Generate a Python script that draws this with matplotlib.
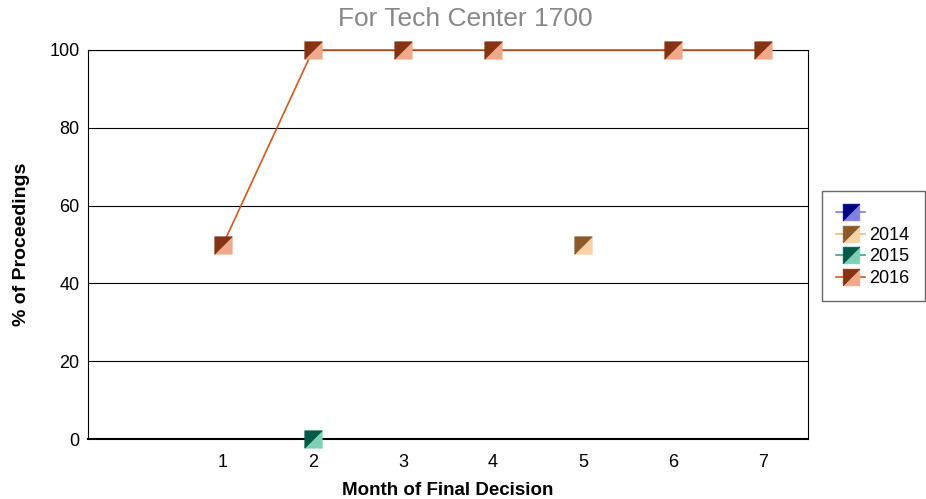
import numpy as np
import matplotlib.pyplot as plt
from matplotlib.legend_handler import HandlerTuple

plt.rcParams["font.family"] = ["Liberation Sans", "DejaVu Sans"]

# monthly share of proceedings, per fiscal year
series_names = ["", "2014", "2015", "2016"]
months_blank, pct_blank = [], []
months_2014, pct_2014 = [5], [50]
months_2015, pct_2015 = [2], [0]
months_2016, pct_2016 = [1, 2, 3, 4, 6, 7], [50, 100, 100, 100, 100, 100]
xticks = [1, 2, 3, 4, 5, 6, 7]
yticks = [0, 20, 40, 60, 80, 100]

# (dark half, light half, line colour)
colors = [
    ("#000080", "#8080E0", "#8080E0"),
    ("#8B5A2B", "#FAD1A4", "#F5B47A"),
    ("#005A46", "#7FCFB6", "#2EA882"),
    ("#843313", "#F0A98A", "#D2581E"),
]

# square marker split along the diagonal
upper = [(-1, -1), (-1, 1), (1, 1), (-1, -1)]
lower = [(-1, -1), (1, -1), (1, 1), (-1, -1)]

fig = plt.figure(figsize=(9.26, 4.99), dpi=100)
ax = fig.add_axes([0.095, 0.1202, 0.7776, 0.7796])

data = [(months_blank, pct_blank), (months_2014, pct_2014),
        (months_2015, pct_2015), (months_2016, pct_2016)]
handles = []
for (xs, ys), (dark, light, lc) in zip(data, colors):
    ax.plot(xs, ys, color=lc, linewidth=1.2, zorder=3, clip_on=False)
    ax.plot(xs, ys, linestyle="none", marker=lower, markersize=12.5,
            markerfacecolor=light, markeredgecolor=light, markeredgewidth=0.5,
            zorder=4, clip_on=False)
    ax.plot(xs, ys, linestyle="none", marker=upper, markersize=12.5,
            markerfacecolor=dark, markeredgecolor=dark, markeredgewidth=0.5,
            zorder=5, clip_on=False)
    h_line = plt.Line2D([], [], color=lc, linewidth=1.2)
    h_lo = plt.Line2D([], [], linestyle="none", marker=lower, markersize=12,
                      markerfacecolor=light, markeredgecolor=light, markeredgewidth=0.5)
    h_up = plt.Line2D([], [], linestyle="none", marker=upper, markersize=12,
                      markerfacecolor=dark, markeredgecolor=dark, markeredgewidth=0.5)
    handles.append((h_line, h_lo, h_up))

ax.set_xlim(-0.5, 7.5)
ax.set_ylim(0, 100)
ax.set_xticks(xticks)
ax.set_yticks(yticks)
ax.tick_params(length=0, labelsize=13)
ax.tick_params(axis="x", pad=11)
ax.tick_params(axis="y", pad=6)
ax.yaxis.grid(True, color="black", linewidth=0.8)
ax.set_axisbelow(True)
for side in ["top", "right", "left"]:
    ax.spines[side].set_linewidth(0.8)
ax.spines["bottom"].set_linewidth(1.5)

ax.set_xlabel("Month of Final Decision", fontsize=13.5, fontweight="bold", labelpad=8)
ax.set_ylabel("% of Proceedings", fontsize=14, fontweight="bold", labelpad=14)
fig.text(0.502, 0.961, "For Tech Center 1700", ha="center", va="center",
         fontsize=19, color="#888888")

leg = fig.legend(handles, series_names, handler_map={tuple: HandlerTuple(ndivide=1)},
                 loc="upper left", bbox_to_anchor=(0.8877, 0.6172, 0.111, 0.0),
                 mode="expand", borderaxespad=0, fontsize=13,
                 frameon=True, fancybox=False, edgecolor="#444444",
                 handlelength=1.6, handletextpad=0.2, labelspacing=0.25,
                 borderpad=0.8)
leg.get_frame().set_linewidth(1.0)

fig.savefig("out.png", dpi=100)
